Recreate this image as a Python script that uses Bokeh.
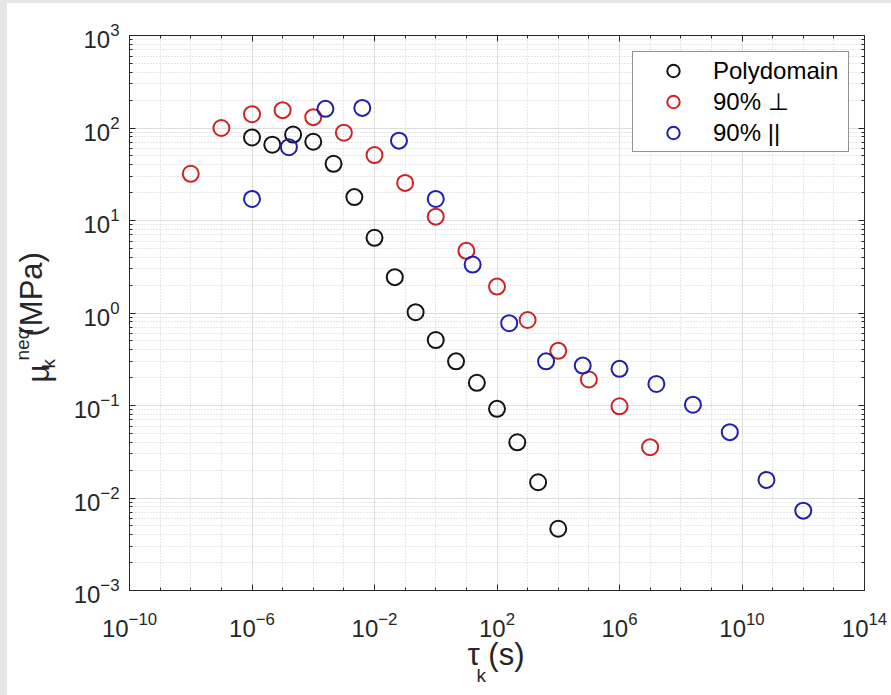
from bokeh.embed import file_html
from bokeh.resources import INLINE
from bokeh.plotting import figure
from bokeh.layouts import column, row
from bokeh.models import (ColumnDataSource, FixedTicker, LogAxis, Legend,
                          LegendItem, CustomJSTickFormatter, Title, Spacer)

# Relaxation spectra: relaxation time tau_k (s) and non-equilibrium modulus mu_k (MPa)
poly_tau = [1e-6, 4.6e-6, 2.2e-5, 1e-4, 4.6e-4, 2.2e-3, 1e-2, 4.6e-2,
            0.22, 1.0, 4.6, 22.0, 100.0, 460.0, 2200.0, 1e4]
poly_mu = [79, 66, 85, 71, 41, 17.9, 6.5, 2.44,
           1.02, 0.51, 0.30, 0.176, 0.092, 0.040, 0.0148, 0.00465]

perp_tau = [1e-8, 1e-7, 1e-6, 1e-5, 1e-4, 1e-3, 1e-2, 1e-1,
            1.0, 10.0, 100.0, 1e3, 1e4, 1e5, 1e6, 1e7]
perp_mu = [32, 100, 141, 156, 131, 89, 51, 25.5,
           11.0, 4.7, 1.93, 0.84, 0.39, 0.191, 0.098, 0.0354]

par_tau = [1e-6, 1.6e-5, 2.5e-4, 4e-3, 6.3e-2, 1.0, 16.0, 250.0,
           4e3, 6.3e4, 1e6, 1.6e7, 2.5e8, 4e9, 6.3e10, 1e12]
par_mu = [17.1, 62, 161, 165, 73, 17.1, 3.34, 0.776,
          0.30, 0.27, 0.249, 0.171, 0.102, 0.0515, 0.0157, 0.0073]

series_names = ["Polydomain", "90% \u22a5", "90% ||"]
series_colors = ["#141414", "#cf2222", "#1e1eb0"]

x_major = [10.0 ** e for e in range(-10, 15, 4)]
x_minor = [10.0 ** e for e in range(-10, 15)]
y_major = [10.0 ** e for e in range(-3, 4)]
y_minor = [k * 10.0 ** e for e in range(-3, 3) for k in range(2, 10)]

FONT = "Liberation Sans"
AX = "#262626"
PAGE_GREY = "#e6e6e6"

p = figure(width=884, height=692, x_axis_type="log", y_axis_type="log",
           x_range=(1e-10, 1e14), y_range=(1e-3, 1e3),
           output_backend="svg", toolbar_location=None,
           min_border_left=122, min_border_right=27,
           min_border_top=32, min_border_bottom=105,
           background_fill_color="white", border_fill_color="white",
           outline_line_color=AX, outline_line_width=1)

xt = FixedTicker(ticks=x_major, minor_ticks=x_minor)
yt = FixedTicker(ticks=y_major, minor_ticks=y_minor)


def style_axis(ax, labels=True):
    ax.axis_line_color = AX
    ax.major_tick_line_color = AX
    ax.minor_tick_line_color = AX
    ax.major_tick_in = 6
    ax.major_tick_out = 0
    ax.minor_tick_in = 3
    ax.minor_tick_out = 0
    ax.major_label_text_font = FONT
    ax.major_label_text_font_size = "24px"
    ax.major_label_text_color = AX
    if not labels:
        ax.formatter = CustomJSTickFormatter(code="return ''")
        ax.major_label_standoff = 0


def title_piece(text, size, place, offset, standoff, valign):
    """One run of an axis title (base text, subscript or superscript)."""
    p.add_layout(Title(text=text, align="left", vertical_align=valign,
                       offset=offset, standoff=standoff, text_font=FONT,
                       text_font_size=size, text_font_style="normal",
                       text_color=AX), place)


p.xaxis.ticker = xt
p.yaxis.ticker = yt
for ax in p.xaxis:
    style_axis(ax)
    ax.major_label_standoff = 21
for ax in p.yaxis:
    style_axis(ax)
    ax.major_label_standoff = 10

top_axis = LogAxis(ticker=xt)
style_axis(top_axis, labels=False)
p.add_layout(top_axis, "above")
right_axis = LogAxis(ticker=yt)
style_axis(right_axis, labels=False)
p.add_layout(right_axis, "right")

# x title: tau_k (s)
title_piece("\u03c4 (s)", "31px", "below", 338, -6, "top")
title_piece("k", "19px", "below", 347, -12, "top")

# y title: mu_k^neq (MPa), read bottom to top
title_piece(" ", "19px", "left", 0, -3, "bottom")
title_piece("k", "19px", "left", 222, -16, "bottom")
title_piece("\u03bc", "31px", "left", 208, -24, "bottom")
title_piece("(MPa)", "31px", "left", 254, -36, "bottom")
title_piece("neq", "19px", "left", 230, -6, "bottom")

# MATLAB-like grid: solid major lines, dotted minor lines
for g in (p.xgrid, p.ygrid):
    g.grid_line_color = "#dedede"
    g.grid_line_width = 1
    g.minor_grid_line_color = "#cfcfcf"
    g.minor_grid_line_dash = "1 2"
    g.minor_grid_line_width = 1

renderers = []
for taus, mus, color in zip((poly_tau, perp_tau, par_tau),
                            (poly_mu, perp_mu, par_mu), series_colors):
    src = ColumnDataSource(dict(tau=taus, mu=mus))
    r = p.scatter("tau", "mu", source=src, marker="circle", size=16,
                  fill_color=None, line_color=color, line_width=2)
    renderers.append(r)

legend = Legend(items=[LegendItem(label=n, renderers=[r])
                       for n, r in zip(series_names, renderers)],
                location=(503, 438), padding=3, spacing=0,
                glyph_width=74, glyph_height=31, label_standoff=3,
                label_width=132, label_height=31, label_text_font=FONT,
                label_text_font_size="24px", label_text_color="black",
                border_line_color=AX, border_line_width=1,
                background_fill_color="white", background_fill_alpha=1.0,
                margin=0)
p.add_layout(legend)

# thin grey page margin along the top and left edges
top_band = Spacer(width=891, height=3, styles={"background-color": PAGE_GREY})
left_band = Spacer(width=7, height=692, styles={"background-color": PAGE_GREY})
page = column(top_band, row(left_band, p, spacing=0), spacing=0)

open("out.html", "w").write(file_html(page, INLINE))
